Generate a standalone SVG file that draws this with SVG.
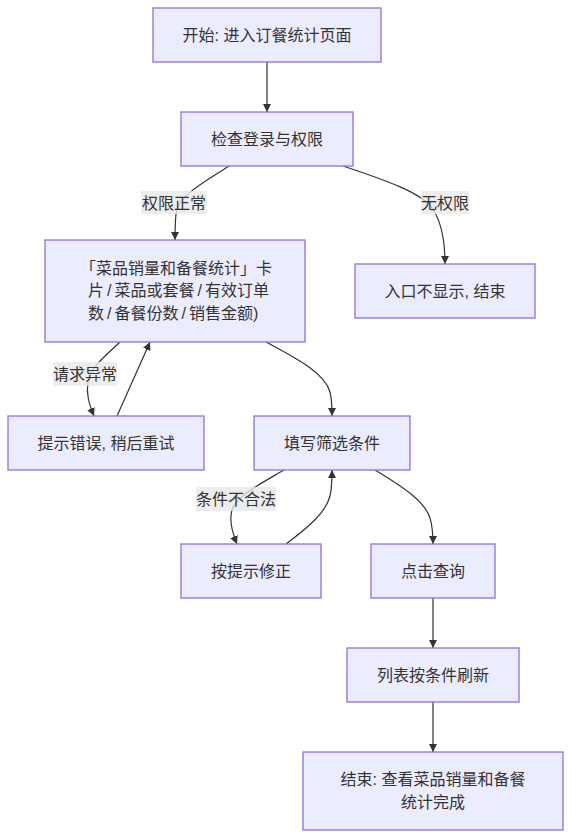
<svg xmlns="http://www.w3.org/2000/svg" width="571" height="838" viewBox="0 0 571 838">
<style>
  .node rect { fill: #ECECFF; stroke: #9370DB; stroke-width: 1.3; }
  text { font-family: "Liberation Sans", "Noto Sans CJK SC", sans-serif; font-size: 16px; fill: #333333; }
  .c { text-anchor: middle; }
  .edge { fill: none; stroke: #333333; stroke-width: 1.2; }
  .lbl rect { fill: #E8E8E8; fill-opacity: 0.8; stroke: none; }
</style>
<defs>
  <marker id="arrow" viewBox="0 0 10 10" refX="10" refY="5" markerWidth="8" markerHeight="8" markerUnits="userSpaceOnUse" orient="auto">
    <path d="M0,0 L10,5 L0,10 z" fill="#333333"/>
  </marker>
</defs>
<rect x="0" y="0" width="571" height="838" fill="#FFFFFF"/>

<g id="connectors">
  <path class="edge" d="M267,62 L267,112" marker-end="url(#arrow)"/>
  <path class="edge" d="M229,166 C205,182 177,196 176,214 C175,225 175,232 175,240" marker-end="url(#arrow)"/>
  <path class="edge" d="M343,166 C385,180 422,193 432,208 C442,222 445,240 445,264" marker-end="url(#arrow)"/>
  <path class="edge" d="M120,342 C105,356 90,368 88,382 C86,394 89,404 94,416" marker-end="url(#arrow)"/>
  <path class="edge" d="M117,416 L150,342" marker-end="url(#arrow)"/>
  <path class="edge" d="M266,342 C300,360 325,374 330,392 C332,400 332,408 332,416" marker-end="url(#arrow)"/>
  <path class="edge" d="M284,470 C262,483 236,496 232,510 C229,520 232,532 237,544" marker-end="url(#arrow)"/>
  <path class="edge" d="M286,544 C310,526 326,512 330,496 C332,488 332,478 332,470" marker-end="url(#arrow)"/>
  <path class="edge" d="M375,470 C405,488 425,502 430,518 C433,528 433,536 433,544" marker-end="url(#arrow)"/>
  <path class="edge" d="M433,598 L433,648" marker-end="url(#arrow)"/>
  <path class="edge" d="M433,702 L433,752" marker-end="url(#arrow)"/>

  <g class="lbl"><rect x="141" y="191" width="66" height="23"/><text class="c" x="174" y="208.5">权限正常</text></g>
  <g class="lbl"><rect x="421" y="191" width="48" height="23"/><text class="c" x="445" y="208.5">无权限</text></g>
  <g class="lbl"><rect x="53" y="362" width="64" height="24"/><text class="c" x="85" y="380">请求异常</text></g>
  <g class="lbl"><rect x="196" y="487" width="80" height="24"/><text class="c" x="236" y="505">条件不合法</text></g>
</g>

<g id="A" class="node"><rect x="153" y="8" width="228" height="54"/><text class="c" x="267" y="41">开始: 进入订餐统计页面</text></g>
<g id="B" class="node"><rect x="181" y="112" width="172" height="54"/><text class="c" x="267" y="145">检查登录与权限</text></g>
<g id="C" class="node"><rect x="45" y="240" width="260" height="102"/>
  <text x="80" y="273.5">「菜品销量和备餐统计」卡</text>
  <text x="88" y="296">片<tspan dx="3">/</tspan><tspan dx="3">菜品或套餐</tspan><tspan dx="3">/</tspan><tspan dx="3">有效订单</tspan></text>
  <text x="88" y="319">数<tspan dx="3">/</tspan><tspan dx="3">备餐份数</tspan><tspan dx="3">/</tspan><tspan dx="3">销售金额)</tspan></text>
</g>
<g id="D" class="node"><rect x="355" y="264" width="180" height="54"/><text class="c" x="445" y="297">入口不显示, 结束</text></g>
<g id="E" class="node"><rect x="8" y="416" width="196" height="54"/><text class="c" x="106" y="449">提示错误, 稍后重试</text></g>
<g id="F" class="node"><rect x="254" y="416" width="156" height="54"/><text class="c" x="332" y="449">填写筛选条件</text></g>
<g id="G" class="node"><rect x="181" y="544" width="140" height="54"/><text class="c" x="251" y="577">按提示修正</text></g>
<g id="H" class="node"><rect x="371" y="544" width="124" height="54"/><text class="c" x="433" y="577">点击查询</text></g>
<g id="I" class="node"><rect x="347" y="648" width="172" height="54"/><text class="c" x="433" y="681">列表按条件刷新</text></g>
<g id="J" class="node"><rect x="303" y="752" width="260" height="78"/>
  <text class="c" x="433" y="785">结束: 查看菜品销量和备餐</text>
  <text class="c" x="433" y="807.5">统计完成</text>
</g>
</svg>
